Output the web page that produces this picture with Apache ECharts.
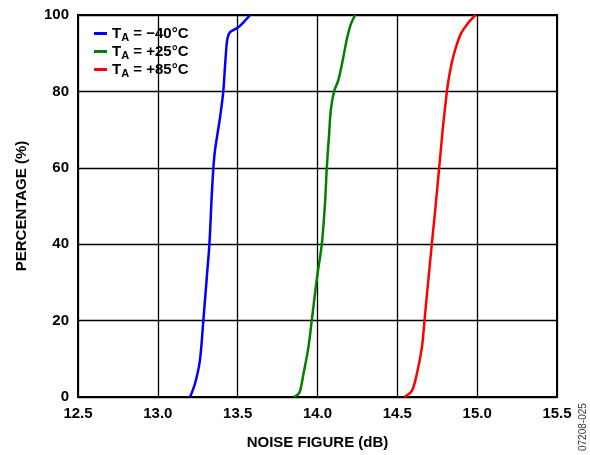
<!DOCTYPE html>
<html>
<head>
<meta charset="utf-8">
<script src="https://cdn.jsdelivr.net/npm/echarts@6/dist/echarts.min.js"></script>
<style>
  html, body { margin: 0; padding: 0; background: #fff; }
  #chart { width: 590px; height: 455px; }
</style>
</head>
<body>
<div id="chart"></div>
<script>
// noise figure (dB) vs cumulative percentage, per temperature
const xTicks = [12.5, 13.0, 13.5, 14.0, 14.5, 15.0, 15.5];
const yTicks = [0, 20, 40, 60, 80, 100];
const seriesNames = ['−40°C', '+25°C', '+85°C'];
const seriesColors = ['#0000ff', '#008000', '#ff0000'];

const coldNF = [13.202, 13.232, 13.263, 13.285, 13.306, 13.323, 13.338, 13.348, 13.358, 13.39, 13.41, 13.421, 13.435, 13.452, 13.504, 13.546, 13.578];
const coldPct = [0, 3.4, 9.4, 20, 31, 40, 53, 60, 64.6, 73.3, 80, 86.7, 93.7, 95.5, 96.8, 98.5, 100];

const roomNF = [13.853, 13.887, 13.912, 13.943, 13.964, 13.996, 14.027, 14.048, 14.058, 14.073, 14.083, 14.104, 14.131, 14.162, 14.184, 14.209, 14.236];
const roomPct = [0, 1.2, 6, 13, 20, 31, 40, 51.4, 60, 69, 75, 80, 83, 89, 93.7, 97.6, 100];

const hotNF = [14.543, 14.591, 14.622, 14.654, 14.67, 14.695, 14.716, 14.739, 14.762, 14.782, 14.797, 14.817, 14.84, 14.868, 14.899, 14.941, 14.99];
const hotPct = [0, 1.6, 6, 13, 20, 31, 40, 49.7, 60, 69, 75, 82, 87.3, 91.7, 95.2, 97.8, 100];

function pairs(xs, ys) {
    return xs.map((x, i) => [x, ys[i]]);
}

const curves = [pairs(coldNF, coldPct), pairs(roomNF, roomPct), pairs(hotNF, hotPct)];

const chartDom = document.getElementById('chart');
const myChart = echarts.init(chartDom);

const labelFont = {
    fontFamily: 'Liberation Sans, Arial, sans-serif',
    fontWeight: 'bold',
    fontSize: 15,
    color: '#000'
};

const option = {
    animation: false,
    backgroundColor: '#fff',
    grid: {
        left: 78,
        right: 33,
        top: 15,
        bottom: 58,
        show: true,
        borderColor: '#000',
        borderWidth: 2
    },
    legend: {
        data: seriesNames,
        orient: 'vertical',
        left: 89,
        top: 21,
        itemGap: 1,
        itemWidth: 13,
        itemHeight: 3,
        icon: 'rect',
        formatter: name => '{t|T}{s|A}{t| = ' + name + '}',
        textStyle: {
            rich: {
                t: { ...labelFont, fontSize: 15 },
                s: { ...labelFont, fontSize: 11, padding: [8, 0, 0, 0] }
            }
        }
    },
    xAxis: {
        type: 'value',
        min: 12.5,
        max: 15.5,
        interval: 0.5,
        name: 'NOISE FIGURE (dB)',
        nameLocation: 'middle',
        nameGap: 38,
        nameTextStyle: { ...labelFont },
        axisLine: { show: false },
        axisTick: { show: false },
        axisLabel: {
            ...labelFont,
            margin: 9,
            formatter: v => v.toFixed(1)
        },
        splitLine: { show: true, lineStyle: { color: '#000', width: 1.3 } }
    },
    yAxis: {
        type: 'value',
        min: 0,
        max: 100,
        interval: 20,
        name: 'PERCENTAGE (%)',
        nameLocation: 'middle',
        nameGap: 49,
        nameTextStyle: { ...labelFont },
        axisLine: { show: false },
        axisTick: { show: false },
        axisLabel: { ...labelFont, margin: 9 },
        splitLine: { show: true, lineStyle: { color: '#000', width: 1.3 } }
    },
    series: curves.map((data, i) => ({
        name: seriesNames[i],
        type: 'line',
        data: data,
        smooth: 0.3,
        showSymbol: false,
        lineStyle: { color: seriesColors[i], width: 2.5 },
        itemStyle: { color: seriesColors[i] }
    })),
    graphic: [{
        type: 'text',
        x: 578,
        y: 451,
        rotation: Math.PI / 2,
        style: {
            text: '07208-025',
            fontFamily: 'Liberation Sans, Arial, sans-serif',
            fontSize: 10,
            fill: '#333'
        }
    }]
};

myChart.setOption(option);
</script>
</body>
</html>
